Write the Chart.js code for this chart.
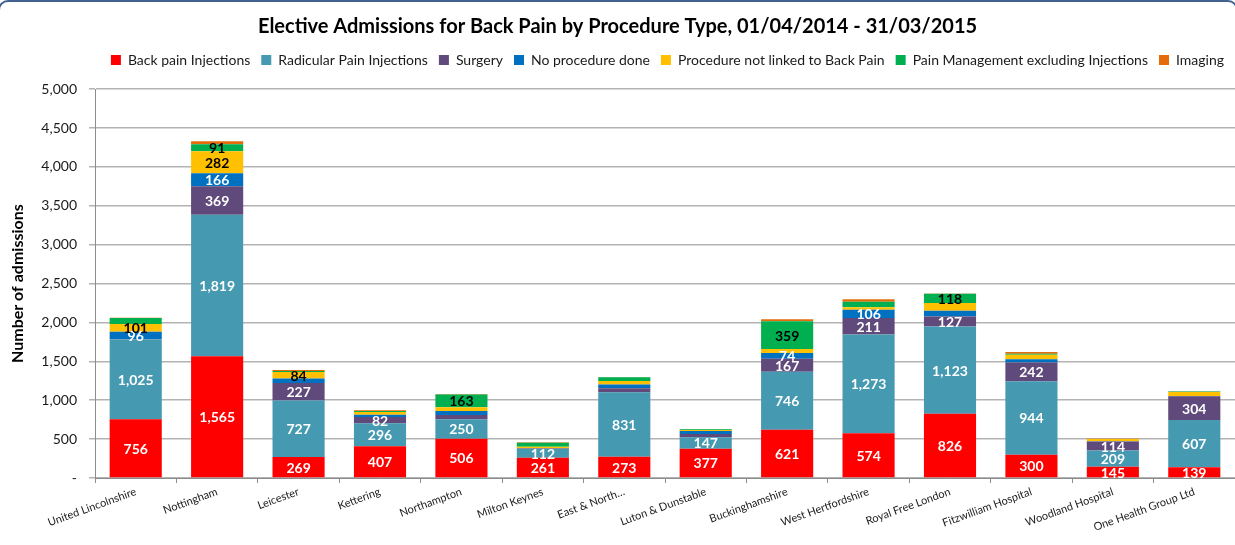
<!DOCTYPE html>
<html>
<head>
<meta charset="utf-8">
<script src="https://cdn.jsdelivr.net/npm/chart.js@4.4.1/dist/chart.umd.min.js"></script>
<style>
  html, body { margin: 0; padding: 0; background: #fff; overflow: hidden; }
  #wrap { position: relative; width: 1235px; height: 545px; overflow: hidden; }
  #frame { position: absolute; left: -2px; top: 0; width: 1240px; height: 600px;
           border: 2px solid #41618e; border-radius: 10px; box-sizing: border-box; pointer-events: none; }
  canvas { position: absolute; left: 0; top: 0; }
</style>
</head>
<body>
<div id="wrap">
  <canvas id="c" width="1235" height="545"></canvas>
  <div id="frame"></div>
</div>
<script>
const categories = ['United Lincolnshire', 'Nottingham', 'Leicester', 'Kettering', 'Northampton',
  'Milton Keynes', 'East & North…', 'Luton & Dunstable', 'Buckinghamshire', 'West Hertfordshire',
  'Royal Free London', 'Fitzwilliam Hospital', 'Woodland Hospital', 'One Health Group Ltd'];

const backPainInjections   = [756, 1565, 269, 407, 506, 261, 273, 377, 621, 574, 826, 300, 145, 139];
const radicularInjections  = [1025, 1819, 727, 296, 250, 112, 831, 147, 746, 1273, 1123, 944, 209, 607];
const surgery              = [3, 369, 227, 82, 55, 5, 50, 42, 167, 211, 127, 242, 114, 304];
const noProcedure          = [96, 166, 55, 30, 50, 5, 50, 38, 74, 106, 75, 40, 5, 5];
const notLinked            = [101, 282, 84, 35, 50, 20, 43, 13, 50, 33, 100, 58, 28, 51];
const painManagement       = [78, 91, 15, 12, 163, 50, 50, 10, 359, 70, 118, 14, 2, 5];
const imaging              = [3, 40, 12, 10, 5, 6, 2, 3, 23, 33, 5, 22, 2, 5];

// which segment values carry a printed label in the original
const showBackPain   = [1,1,1,1,1,1,1,1,1,1,1,1,1,1];
const showRadicular  = [1,1,1,1,1,1,1,1,1,1,1,1,1,1];
const showSurgery    = [0,1,1,1,0,0,0,0,1,1,1,1,1,1];
const showNoProc     = [1,1,0,0,0,0,0,0,1,1,0,0,0,0];
const showNotLinked  = [1,1,1,0,0,0,0,0,0,0,0,0,0,0];
const showPainMgmt   = [0,1,0,0,1,0,0,0,1,0,1,0,0,0];
const showImaging    = [0,0,0,0,0,0,0,0,0,0,0,0,0,0];

const yTicksMax = 5000;
const yTicksStep = 500;

const FONT = 'Lato';
Chart.defaults.font.family = FONT;

function ds(label, data, color, show, labelColor) {
  return { label, data, backgroundColor: color, showLabel: show, labelColor,
           borderWidth: 0, barPercentage: 0.64, categoryPercentage: 1.0 };
}

const segLabels = {
  id: 'segLabels',
  afterDatasetsDraw(chart) {
    const ctx = chart.ctx;
    ctx.save();
    ctx.font = 'bold 14px ' + FONT;
    ctx.textAlign = 'center';
    ctx.textBaseline = 'middle';
    chart.data.datasets.forEach((d, di) => {
      const meta = chart.getDatasetMeta(di);
      meta.data.forEach((el, i) => {
        if (!d.showLabel[i]) return;
        const p = el.getProps(['x', 'y', 'base'], true);
        ctx.fillStyle = d.labelColor;
        ctx.fillText(d.data[i].toLocaleString('en-US'), p.x, (p.y + p.base) / 2 + 1);
      });
    });
    ctx.restore();
  }
};

new Chart(document.getElementById('c'), {
  type: 'bar',
  data: {
    labels: categories,
    datasets: [
      ds('Back pain Injections', backPainInjections, '#ff0000', showBackPain, '#ffffff'),
      ds('Radicular Pain Injections', radicularInjections, '#4599b0', showRadicular, '#ffffff'),
      ds('Surgery', surgery, '#604a7b', showSurgery, '#ffffff'),
      ds('No procedure done', noProcedure, '#0070c0', showNoProc, '#ffffff'),
      ds('Procedure not linked to Back Pain', notLinked, '#ffc000', showNotLinked, '#000000'),
      ds('Pain Management excluding Injections', painManagement, '#00b050', showPainMgmt, '#000000'),
      ds('Imaging', imaging, '#e46c0a', showImaging, '#000000')
    ]
  },
  options: {
    responsive: false,
    animation: false,
    layout: { padding: { left: 0, right: 0, top: 0, bottom: 0 } },
    plugins: {
      title: {
        display: true,
        text: 'Elective Admissions for Back Pain by Procedure Type, 01/04/2014 - 31/03/2015',
        color: '#000000',
        font: { size: 20, weight: 'bold' },
        padding: { top: 15, bottom: 3 }
      },
      legend: {
        position: 'top',
        align: 'end',
        labels: { boxWidth: 10, boxHeight: 10, padding: 11, color: '#1a1a1a', font: { size: 14 } }
      },
      subtitle: { display: true, text: '', weight: 500, padding: { top: 0, bottom: 5 }, font: { size: 6 } },
      tooltip: { enabled: false }
    },
    scales: {
      x: {
        stacked: true,
        ticks: { minRotation: 20, maxRotation: 20, autoSkip: false, color: '#1a1a1a', font: { size: 11 }, padding: 2 },
        grid: { offset: true, drawOnChartArea: false, drawTicks: true, tickLength: 5, color: '#8c8c8c' },
        border: { color: '#8c8c8c', width: 1 },
        afterFit(s) { s.height = 67; }
      },
      y: {
        stacked: true,
        min: 0,
        max: yTicksMax,
        ticks: {
          stepSize: yTicksStep,
          color: '#1a1a1a',
          font: { size: 14 },
          padding: 12,
          callback: v => v === 0 ? '-' : v.toLocaleString('en-US')
        },
        grid: { color: '#b3b3b3', lineWidth: 1.5, tickLength: 6, drawTicks: true },
        border: { color: '#8c8c8c', width: 1 },
        title: { display: true, text: 'Number of admissions', color: '#000000', font: { size: 16, weight: 'bold' }, padding: { top: 8, bottom: 0 } },
        afterFit(s) { s.width = 95; }
      }
    }
  },
  plugins: [segLabels]
});
</script>
</body>
</html>
